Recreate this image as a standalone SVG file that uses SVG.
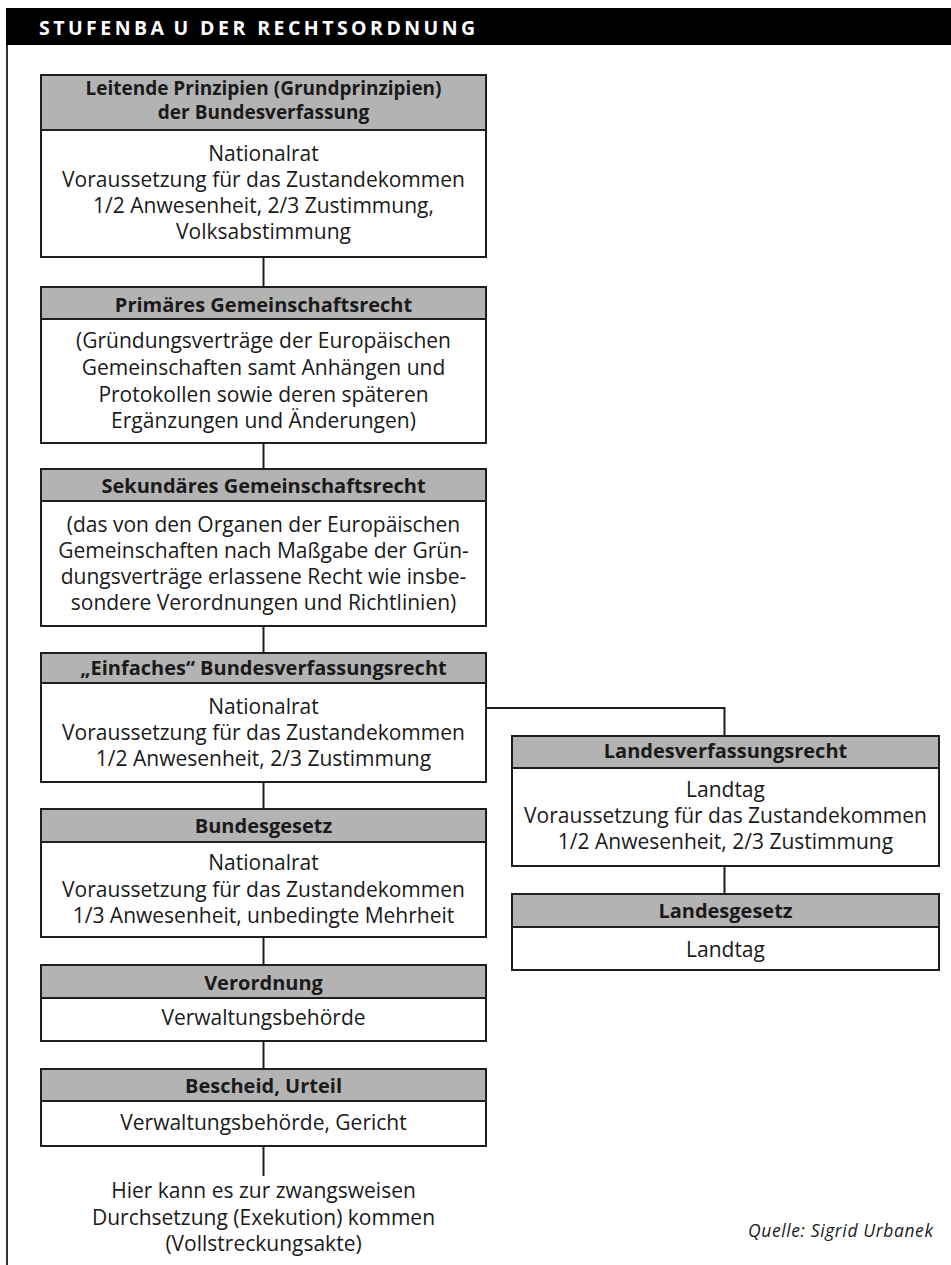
<svg xmlns="http://www.w3.org/2000/svg" width="951" height="1265" viewBox="0 0 951 1265">
<style>
.hd{fill:#b3b3b3;stroke:#1e1e1e;stroke-width:2}
.bd{fill:#fff;stroke:#1e1e1e;stroke-width:2}
.ht{font-family:"Open Sans","Liberation Sans",sans-serif;font-weight:bold;font-size:20px;fill:#1a1a1a;text-anchor:middle}
.bt{font-family:"Open Sans","Liberation Sans",sans-serif;font-size:21px;fill:#1a1a1a;text-anchor:middle}
.cn{fill:none;stroke:#1e1e1e;stroke-width:2}
</style>
<rect x="0" y="0" width="951" height="1265" fill="#fff"/>
<g id="frame">
<rect x="6" y="8" width="945" height="37" fill="#000"/>
<line x1="7" y1="45" x2="7" y2="1265" stroke="#333" stroke-width="2"/>
<text x="39" y="35" font-family="Open Sans, Liberation Sans, sans-serif" font-weight="bold" font-size="19.5" fill="#fff" letter-spacing="3.45">STUFENBA<tspan dx="6">U</tspan> DER RECHTSORDNUNG</text>
</g>
<g id="connectors">
<line class="cn" x1="263.5" y1="257" x2="263.5" y2="287"/>
<line class="cn" x1="263.5" y1="443" x2="263.5" y2="469"/>
<line class="cn" x1="263.5" y1="626" x2="263.5" y2="653"/>
<line class="cn" x1="263.5" y1="782" x2="263.5" y2="809"/>
<line class="cn" x1="263.5" y1="937" x2="263.5" y2="965"/>
<line class="cn" x1="263.5" y1="1041" x2="263.5" y2="1069"/>
<line class="cn" x1="263.5" y1="1146" x2="263.5" y2="1176"/>
<path class="cn" d="M486,708 H724.5 V736"/>
<line class="cn" x1="724.5" y1="866" x2="724.5" y2="894"/>
</g>
<g id="n1">
<rect class="bd" x="41" y="75" width="445" height="182"/>
<rect class="hd" x="41" y="75" width="445" height="55"/>
<text class="ht" x="263.5" y="95" style="font-size:19px">Leitende Prinzipien (Grundprinzipien)</text>
<text class="ht" x="263.5" y="119" style="font-size:19px">der Bundesverfassung</text>
<text class="bt" x="263.5" y="161">Nationalrat</text>
<text class="bt" x="263.5" y="187">Voraussetzung für das Zustandekommen</text>
<text class="bt" x="263.5" y="213">1/2 Anwesenheit, 2/3 Zustimmung,</text>
<text class="bt" x="263.5" y="239">Volksabstimmung</text>
</g>
<g id="n2">
<rect class="bd" x="41" y="287" width="445" height="156"/>
<rect class="hd" x="41" y="287" width="445" height="32"/>
<text class="ht" x="263.5" y="312">Primäres Gemeinschaftsrecht</text>
<text class="bt" x="263.5" y="348">(Gründungsverträge der Europäischen</text>
<text class="bt" x="263.5" y="375">Gemeinschaften samt Anhängen und</text>
<text class="bt" x="263.5" y="402">Protokollen sowie deren späteren</text>
<text class="bt" x="263.5" y="428">Ergänzungen und Änderungen)</text>
</g>
<g id="n3">
<rect class="bd" x="41" y="469" width="445" height="157"/>
<rect class="hd" x="41" y="469" width="445" height="32"/>
<text class="ht" x="263.5" y="493">Sekundäres Gemeinschaftsrecht</text>
<text class="bt" x="263.5" y="532">(das von den Organen der Europäischen</text>
<text class="bt" x="263.5" y="558">Gemeinschaften nach Maßgabe der Grün-</text>
<text class="bt" x="263.5" y="584">dungsverträge erlassene Recht wie insbe-</text>
<text class="bt" x="263.5" y="610">sondere Verordnungen und Richtlinien)</text>
</g>
<g id="n4">
<rect class="bd" x="41" y="653" width="445" height="129"/>
<rect class="hd" x="41" y="653" width="445" height="30"/>
<text class="ht" x="263.5" y="675">„Einfaches“ Bundesverfassungsrecht</text>
<text class="bt" x="263.5" y="714">Nationalrat</text>
<text class="bt" x="263.5" y="740">Voraussetzung für das Zustandekommen</text>
<text class="bt" x="263.5" y="766">1/2 Anwesenheit, 2/3 Zustimmung</text>
</g>
<g id="n5">
<rect class="bd" x="41" y="809" width="445" height="128"/>
<rect class="hd" x="41" y="809" width="445" height="33"/>
<text class="ht" x="263.5" y="833">Bundesgesetz</text>
<text class="bt" x="263.5" y="870">Nationalrat</text>
<text class="bt" x="263.5" y="897">Voraussetzung für das Zustandekommen</text>
<text class="bt" x="263.5" y="923">1/3 Anwesenheit, unbedingte Mehrheit</text>
</g>
<g id="n6">
<rect class="bd" x="41" y="965" width="445" height="76"/>
<rect class="hd" x="41" y="965" width="445" height="33"/>
<text class="ht" x="263.5" y="990">Verordnung</text>
<text class="bt" x="263.5" y="1025">Verwaltungsbehörde</text>
</g>
<g id="n7">
<rect class="bd" x="41" y="1069" width="445" height="77"/>
<rect class="hd" x="41" y="1069" width="445" height="32"/>
<text class="ht" x="263.5" y="1093">Bescheid, Urteil</text>
<text class="bt" x="263.5" y="1130">Verwaltungsbehörde, Gericht</text>
</g>
<g id="n8">
<rect class="bd" x="512" y="736" width="427" height="130"/>
<rect class="hd" x="512" y="736" width="427" height="32"/>
<text class="ht" x="725.5" y="758">Landesverfassungsrecht</text>
<text class="bt" x="725.5" y="797">Landtag</text>
<text class="bt" x="725.5" y="823">Voraussetzung für das Zustandekommen</text>
<text class="bt" x="725.5" y="849">1/2 Anwesenheit, 2/3 Zustimmung</text>
</g>
<g id="n9">
<rect class="bd" x="512" y="894" width="427" height="76"/>
<rect class="hd" x="512" y="894" width="427" height="33"/>
<text class="ht" x="725.5" y="918">Landesgesetz</text>
<text class="bt" x="725.5" y="957">Landtag</text>
</g>
<g id="n10">
<text class="bt" x="263.5" y="1198">Hier kann es zur zwangsweisen</text>
<text class="bt" x="263.5" y="1225">Durchsetzung (Exekution) kommen</text>
<text class="bt" x="263.5" y="1251">(Vollstreckungsakte)</text>
</g>
<text x="748" y="1237" font-family="Open Sans, Liberation Sans, sans-serif" font-style="italic" font-size="17.5" fill="#1a1a1a" textLength="185" lengthAdjust="spacing">Quelle: Sigrid Urbanek</text>
</svg>
